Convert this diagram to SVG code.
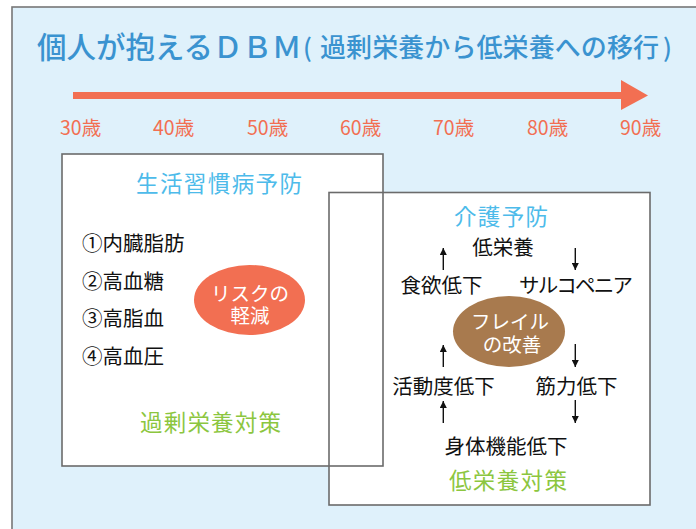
<svg xmlns="http://www.w3.org/2000/svg" width="696" height="529" viewBox="0 0 696 529">
<defs>
<style>
text{font-family:"Noto Sans CJK JP","Noto Sans",sans-serif;}
.title{fill:#3a93d0;font-weight:500;}
.age{fill:#f26f52;font-size:19.5px;}
.box{fill:none;stroke:#6b6b6b;stroke-width:1.6;}
.fill{fill:#ffffff;stroke:none;}
.head{fill:#4dbbea;font-size:22.5px;text-anchor:middle;}
.green{fill:#8cc63f;font-size:22.5px;text-anchor:middle;}
.item{fill:#111;font-size:20.5px;}
.mid{text-anchor:middle;}
.wt{fill:#ffffff;font-size:19.5px;text-anchor:middle;}
.conn{stroke:#111;stroke-width:1.4;fill:none;marker-end:url(#ah);}
</style>
<marker id="ah" viewBox="0 0 8 8" refX="8" refY="4" markerWidth="7" markerHeight="7" markerUnits="userSpaceOnUse" orient="auto">
<path d="M0,0 L8,4 L0,8 Z" fill="#111"/>
</marker>
</defs>
<rect x="12" y="7" width="700" height="540" fill="#dff1fb" stroke="#777" stroke-width="1.6"/>
<g id="title">
<text class="title" x="37" y="58" font-size="29.5">個人が抱えるＤＢＭ</text>
<text class="title" x="303" y="57" font-size="25">(</text>
<text class="title" x="320" y="57" font-size="26" textLength="339" lengthAdjust="spacing">過剰栄養から低栄養への移行</text>
<text class="title" x="663" y="57" font-size="25">)</text>
</g>
<g id="timeline">
<rect x="73" y="92" width="550" height="7" fill="#f26f52"/>
<polygon points="621,80 648,95.5 621,110" fill="#f26f52"/>
<text class="age" x="60" y="135">30歳</text>
<text class="age" x="153" y="135">40歳</text>
<text class="age" x="247" y="135">50歳</text>
<text class="age" x="340" y="135">60歳</text>
<text class="age" x="433" y="135">70歳</text>
<text class="age" x="527" y="135">80歳</text>
<text class="age" x="620" y="135">90歳</text>
</g>
<rect class="fill" x="62" y="154" width="321" height="312"/>
<rect class="fill" x="329" y="192.5" width="321" height="312.5"/>
<g id="lifestyle-box">
<rect class="box" x="62" y="154" width="321" height="312"/>
<text class="head" x="219" y="192" textLength="166" lengthAdjust="spacing">生活習慣病予防</text>
<text class="item" x="82" y="251">①内臓脂肪</text>
<text class="item" x="82" y="288.5">②高血糖</text>
<text class="item" x="82" y="326">③高脂血</text>
<text class="item" x="82" y="363.5">④高血圧</text>
<text class="green" x="210.5" y="431" textLength="141" lengthAdjust="spacing">過剰栄養対策</text>
</g>
<g id="risk">
<ellipse cx="249.5" cy="300" rx="55.5" ry="35" fill="#f26f52"/>
<text class="wt"><tspan x="250" y="301">リスクの</tspan><tspan x="250" y="323">軽減</tspan></text>
</g>
<g id="care-box">
<rect class="box" x="329" y="192.5" width="321" height="312.5"/>
<text class="head" x="501" y="225" textLength="94" lengthAdjust="spacing">介護予防</text>
<text class="green" x="508" y="489" textLength="118" lengthAdjust="spacing">低栄養対策</text>
</g>
<g id="n-low-nutrition"><text class="item mid" x="503" y="255">低栄養</text></g>
<g id="n-appetite"><text class="item mid" x="441.5" y="293">食欲低下</text></g>
<g id="n-sarcopenia"><text class="item mid" x="576" y="293" textLength="114" lengthAdjust="spacing">サルコペニア</text></g>
<g id="n-activity"><text class="item mid" x="443.5" y="394">活動度低下</text></g>
<g id="n-muscle"><text class="item mid" x="576.5" y="394">筋力低下</text></g>
<g id="n-physical"><text class="item mid" x="506" y="454">身体機能低下</text></g>
<g id="frailty">
<ellipse cx="509" cy="331.5" rx="56" ry="35.5" fill="#a87a4e"/>
<text class="wt"><tspan x="510" y="329">フレイル</tspan><tspan x="512" y="352">の改善</tspan></text>
</g>
<g id="connectors">
<line class="conn" x1="443.3" y1="270" x2="443.3" y2="248"/>
<line class="conn" x1="575.3" y1="248" x2="575.3" y2="270"/>
<line class="conn" x1="443.3" y1="367" x2="443.3" y2="345"/>
<line class="conn" x1="575.3" y1="344" x2="575.3" y2="367"/>
<line class="conn" x1="443.3" y1="423" x2="443.3" y2="401"/>
<line class="conn" x1="575.3" y1="400" x2="575.3" y2="423"/>
</g>
</svg>
